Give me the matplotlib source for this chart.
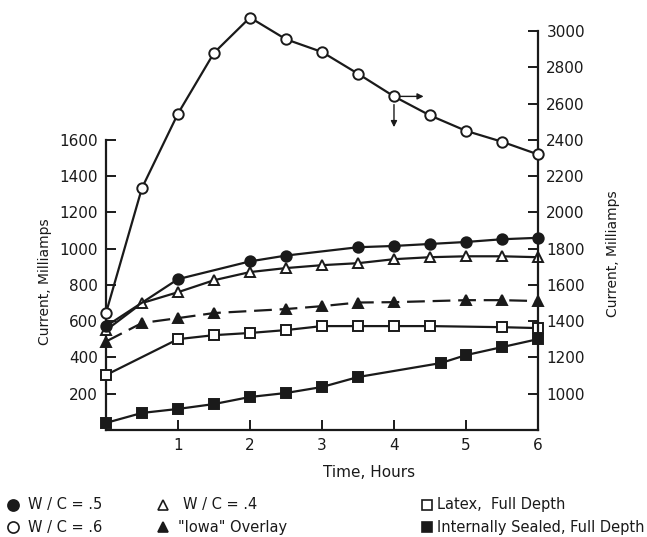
import matplotlib
matplotlib.use("Agg")
import matplotlib.pyplot as plt
from matplotlib.lines import Line2D

# 数据
# W/C = .6, 右轴
t_wc6 = [0, 0.5, 1, 1.5, 2, 2.5, 3, 3.5, 4, 4.5, 5, 5.5, 6]
i_wc6 = [1445, 2135, 2545, 2880, 3075, 2955, 2885, 2765, 2640, 2535, 2450, 2390, 2320]
# W/C = .5, 左轴
t_wc5 = [0, 1, 2, 2.5, 3.5, 4, 4.5, 5, 5.5, 6]
i_wc5 = [572, 832, 930, 962, 1008, 1015, 1026, 1037, 1052, 1060]
# W/C = .4
t_wc4 = [0, 0.5, 1, 1.5, 2, 2.5, 3, 3.5, 4, 4.5, 5, 5.5, 6]
i_wc4 = [550, 700, 760, 826, 871, 893, 909, 920, 942, 953, 958, 958, 953]
# "Iowa" Overlay
t_iowa = [0, 0.5, 1, 1.5, 2.5, 3, 3.5, 4, 5, 5.5, 6]
i_iowa = [488, 590, 617, 645, 667, 683, 703, 705, 716, 716, 711]
# Latex, Full Depth
t_latex = [0, 1, 1.5, 2, 2.5, 3, 3.5, 4, 4.5, 5.5, 6]
i_latex = [303, 501, 523, 535, 551, 573, 573, 573, 573, 567, 562]
# Internally Sealed, Full Depth
t_seal = [0, 0.5, 1, 1.5, 2, 2.5, 3, 3.5, 4.65, 5, 5.5, 6]
i_seal = [39, 94, 116, 143, 182, 204, 237, 292, 369, 413, 457, 501]

left_ticks = [200, 400, 600, 800, 1000, 1200, 1400, 1600]
right_ticks = [1000, 1200, 1400, 1600, 1800, 2000, 2200, 2400, 2600, 2800, 3000]
x_ticks = [1, 2, 3, 4, 5, 6]

plt.rcParams['font.family'] = ['DejaVu Sans']
K = '#1a1a1a'
LW = 1.6

fig = plt.figure(figsize=(6.47, 5.37), dpi=100)
ax = fig.add_axes([0.1638, 0.1993, 0.6677, 0.7765])
ax2 = ax.twinx()

ax.set_xlim(0, 6)
ax.set_ylim(0, 2300)
ax2.set_ylim(800, 3100)

def curve(a, x, y, marker, filled, ls='-'):
    a.plot(x, y, color=K, lw=LW, ls=ls, marker=marker, markersize=7.5,
           markerfacecolor=K if filled else 'white', markeredgecolor=K,
           markeredgewidth=1.4, clip_on=False, zorder=3)

curve(ax, t_seal, i_seal, 's', True)
curve(ax, t_latex, i_latex, 's', False)
curve(ax, t_iowa, i_iowa, '^', True, ls=(0, (8, 3.5)))
curve(ax, t_wc4, i_wc4, '^', False)
curve(ax, t_wc5, i_wc5, 'o', True)
curve(ax2, t_wc6, i_wc6, 'o', False)

# 箭头 (W/C = .6 用右轴)
ax2.annotate('', xy=(4.45, 2640), xytext=(4.05, 2640),
             arrowprops=dict(arrowstyle='-|>', color=K, lw=1.0, mutation_scale=9))
ax2.annotate('', xy=(4.0, 2455), xytext=(4.0, 2610),
             arrowprops=dict(arrowstyle='-|>', color=K, lw=1.0, mutation_scale=9))

# 坐标轴样式
for a in (ax, ax2):
    a.spines['top'].set_visible(False)
    for s in a.spines.values():
        s.set_linewidth(1.6)
        s.set_color(K)
ax.spines['right'].set_visible(False)
ax2.spines['left'].set_visible(False)
ax2.spines['bottom'].set_visible(False)
ax.spines['left'].set_bounds(0, 1600)
ax2.spines['right'].set_bounds(800, 3000)

ax.set_xticks(x_ticks)
ax.set_yticks(left_ticks)
ax2.set_yticks(right_ticks)
ax.tick_params(axis='both', direction='in', length=7, width=1.4, colors=K,
               labelsize=11, pad=6)
ax2.tick_params(axis='y', direction='in', length=7, width=1.4, colors=K,
                labelsize=11, pad=6)

fig.text(0.070, 0.476, 'Current, Milliamps', rotation=90, ha='center',
         va='center', fontsize=10, color=K)
fig.text(0.947, 0.527, 'Current, Milliamps', rotation=90, ha='center',
         va='center', fontsize=10, color=K)
fig.text(0.570, 0.121, 'Time, Hours', ha='center', va='center',
         fontsize=11, color=K)

# 图例 (底部文字)
legend_items = [
    (0.020, 0.0433, 0.0596, 'o', True, 8, 'W / C = .5'),
    (0.020, 0.0433, 0.0186, 'o', False, 8, 'W / C = .6'),
    (0.252, 0.283, 0.0596, '^', False, 7, 'W / C = .4'),
    (0.252, 0.275, 0.0186, '^', True, 7, '"Iowa" Overlay'),
    (0.660, 0.6754, 0.0596, 's', False, 7, 'Latex,  Full Depth'),
    (0.660, 0.6754, 0.0186, 's', True, 7, 'Internally Sealed, Full Depth'),
]
for xm, xt, y, m, filled, ms, label in legend_items:
    fig.add_artist(Line2D([xm], [y], marker=m, markersize=ms,
                          markerfacecolor=K if filled else 'white',
                          markeredgecolor=K, markeredgewidth=1.2,
                          transform=fig.transFigure))
    fig.text(xt, y, label, ha='left', va='center', fontsize=10.5, color=K)

fig.savefig('out.png', dpi=100)
